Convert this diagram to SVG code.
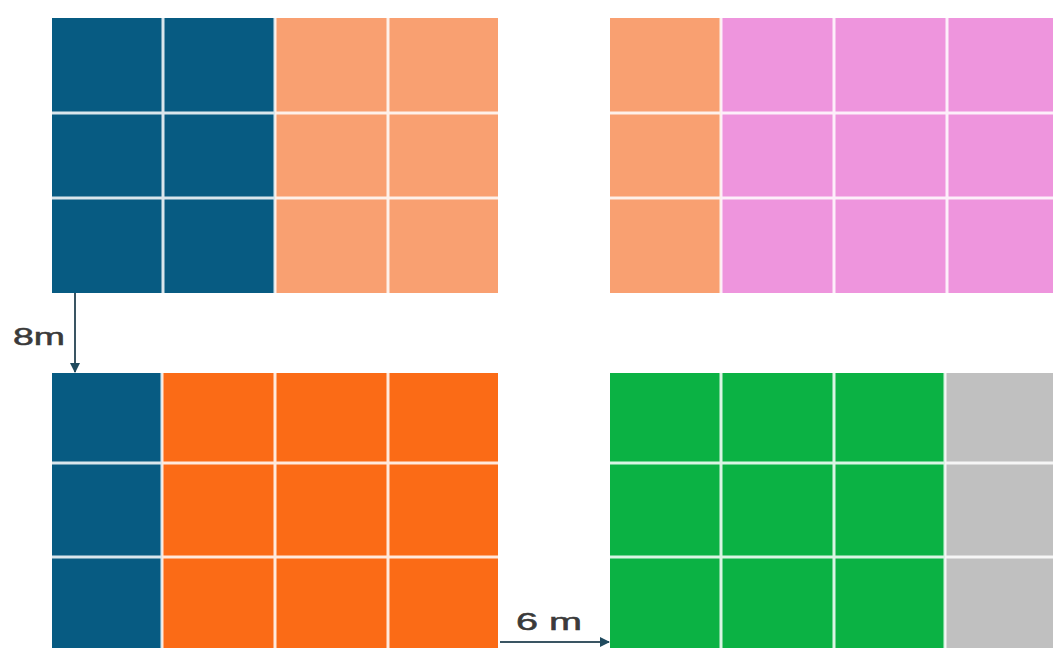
<svg xmlns="http://www.w3.org/2000/svg" width="1053" height="671" viewBox="0 0 1053 671">
<defs>
<style>
.grid{stroke:#ffffff;stroke-width:3;stroke-opacity:0.85}
.dim{stroke:#3a5563;stroke-width:2;fill:none}
.lbl{font-family:"Liberation Sans",Arial,sans-serif;font-size:23px;fill:#3a3a3a;stroke:#3a3a3a;stroke-width:0.5}
</style>
<marker id="ah" viewBox="0 0 10 10" refX="9" refY="5" markerWidth="5" markerHeight="5" orient="auto"><path d="M0,0 L10,5 L0,10 z" fill="#1f4a5e"/></marker>
</defs>
<rect width="1053" height="671" fill="#ffffff"/>
<g id="block-top-left">
<rect x="52" y="18" width="223" height="275" fill="#075b82"/>
<rect x="275" y="18" width="223" height="275" fill="#f9a071"/>
<path class="grid" d="M163,18V293M275,18V293M388,18V293M52,113H498M52,198H498"/>
</g>
<g id="block-top-right">
<rect x="610" y="18" width="111" height="275" fill="#f9a071"/>
<rect x="721" y="18" width="335" height="275" fill="#ee95dd"/>
<path class="grid" d="M721,18V293M834,18V293M947,18V293M610,113H1056M610,198H1056"/>
</g>
<g id="block-bottom-left">
<rect x="52" y="373" width="110" height="275" fill="#075b82"/>
<rect x="162" y="373" width="336" height="275" fill="#fb6b16"/>
<path class="grid" d="M162,373V648M275,373V648M388,373V648M52,463H498M52,557H498"/>
</g>
<g id="block-bottom-right">
<rect x="610" y="373" width="335" height="275" fill="#0bb244"/>
<rect x="945" y="373" width="111" height="275" fill="#c0c0c0"/>
<path class="grid" d="M721,373V648M834,373V648M945,373V648M610,463H1056M610,557H1056"/>
</g>
<g id="connectors">
<line class="dim" x1="75" y1="293" x2="75" y2="372" marker-end="url(#ah)"/>
<line class="dim" x1="500" y1="642" x2="609" y2="642" marker-end="url(#ah)"/>
</g>
<g id="labels">
<text class="lbl" x="13" y="345" textLength="52" lengthAdjust="spacingAndGlyphs">8m</text>
<text class="lbl" x="516" y="630" textLength="66" lengthAdjust="spacingAndGlyphs">6 m</text>
</g>
</svg>
